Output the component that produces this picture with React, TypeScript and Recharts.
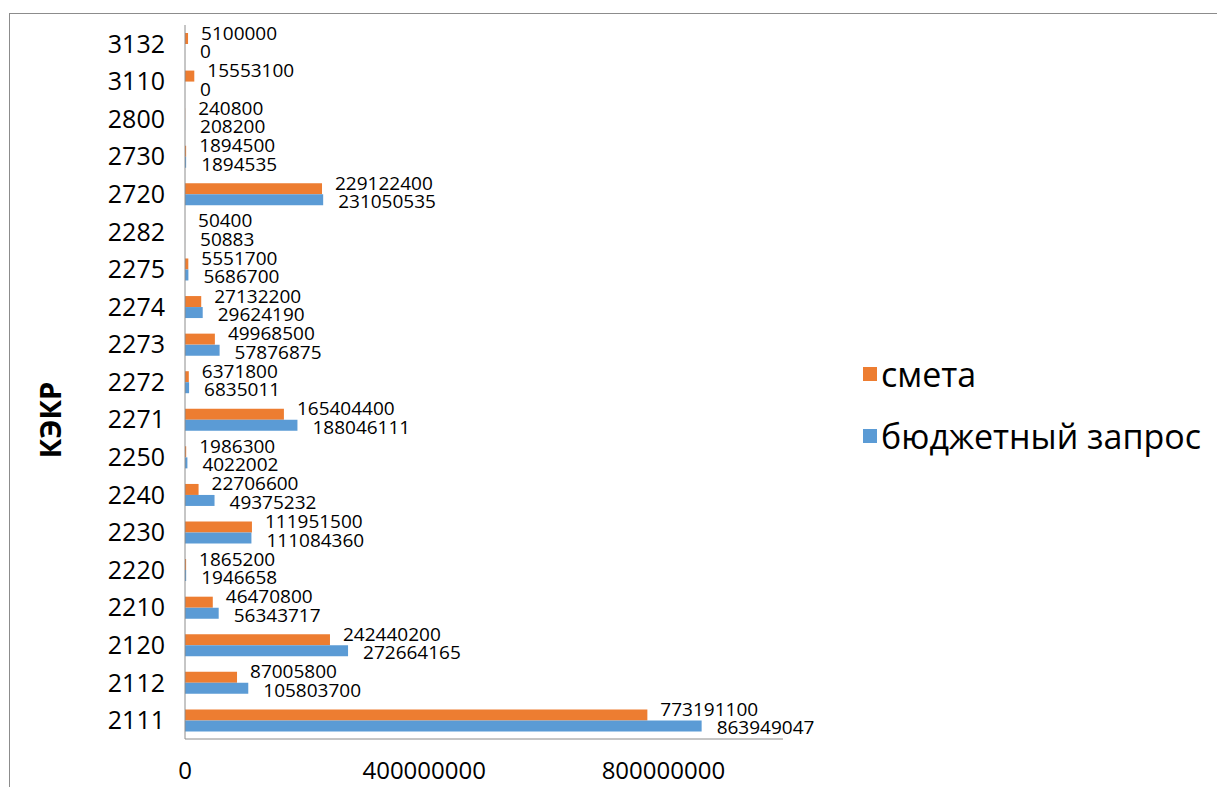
import React from 'react';
import { BarChart, Bar, XAxis, YAxis, CartesianGrid, LabelList } from 'recharts';

const categories = ['3132', '3110', '2800', '2730', '2720', '2282', '2275', '2274', '2273', '2272', '2271', '2250', '2240', '2230', '2220', '2210', '2120', '2112', '2111'];
const smeta = [5100000, 15553100, 240800, 1894500, 229122400, 50400, 5551700, 27132200, 49968500, 6371800, 165404400, 1986300, 22706600, 111951500, 1865200, 46470800, 242440200, 87005800, 773191100];
const zapros = [0, 0, 208200, 1894535, 231050535, 50883, 5686700, 29624190, 57876875, 6835011, 188046111, 4022002, 49375232, 111084360, 1946658, 56343717, 272664165, 105803700, 863949047];
const xTicks = [0, 400000000, 800000000];
const seriesNames = ['смета', 'бюджетный запрос'];

const data = categories.map((c, i) => ({ cat: c, smeta: smeta[i], zapros: zapros[i] }));

const ORANGE = '#ED7D31';
const BLUE = '#5B9BD5';
const FONT = '"Open Sans", "Noto Sans", sans-serif';

const makeLabel = (dx: number, dy: number) => (props: any) => {
  const { x, y, width, height, value } = props;
  return (
    <text
      x={Number(x) + Number(width) + dx}
      y={Number(y) + Number(height) / 2 + dy}
      dominantBaseline="central"
      fontSize={19}
      fontFamily={FONT}
      fill="#000"
    >
      {value}
    </text>
  );
};

const gridGen = (props: any) => {
  const xa = props && props.xAxis;
  if (xa && typeof xa.scale === 'function') {
    return xTicks.map((t) => xa.scale(t));
  }
  return [];
};

export default function App() {
  return (
    <div style={{ position: 'absolute', left: 0, top: 0, width: 1217, height: 787, background: '#fff', overflow: 'hidden' }}>
      <div style={{ position: 'absolute', left: 9, top: 13, right: 0, bottom: 0, borderTop: '1px solid #8c8c8c', borderLeft: '1px solid #8c8c8c' }} />
      <div style={{ position: 'absolute', left: 0, top: 0 }}>
        <BarChart
          width={1217}
          height={787}
          data={data}
          layout="vertical"
          margin={{ top: 25, right: 434, left: 0, bottom: 8 }}
          barGap={0}
          barSize={11}
        >
          <CartesianGrid horizontal={false} stroke="#8c8c8c" strokeWidth={1} verticalCoordinatesGenerator={gridGen} />
          <XAxis
            type="number"
            domain={[0, 1000000000]}
            ticks={xTicks}
            tickLine={false}
            axisLine={{ stroke: '#8c8c8c' }}
            height={40}
            tickSize={6}
            tickMargin={17}
            tick={{ fontSize: 24, fontFamily: FONT, fill: '#000' }}
            interval={0}
          />
          <YAxis
            type="category"
            dataKey="cat"
            width={185}
            tickLine={false}
            axisLine={{ stroke: '#8c8c8c' }}
            tickSize={6}
            tickMargin={14}
            tick={{ fontSize: 25, fontFamily: FONT, fill: '#000' }}
            interval={0}
          />
          <Bar dataKey="smeta" name={seriesNames[0]} fill={ORANGE} isAnimationActive={false} minPointSize={0.01}>
            <LabelList dataKey="smeta" content={makeLabel(13, -6)} />
          </Bar>
          <Bar dataKey="zapros" name={seriesNames[1]} fill={BLUE} isAnimationActive={false} minPointSize={0.01}>
            <LabelList dataKey="zapros" content={makeLabel(15, 1.5)} />
          </Bar>
        </BarChart>
      </div>
      <div style={{ position: 'absolute', left: 49, top: 420, transform: 'translate(-50%, -50%) rotate(-90deg)', fontFamily: FONT, fontWeight: 700, fontSize: 29, color: '#000', whiteSpace: 'nowrap', lineHeight: 1 }}>
        КЭКР
      </div>
      <div style={{ position: 'absolute', left: 863, top: 354, height: 40, display: 'flex', alignItems: 'center', fontFamily: FONT, fontSize: 34, color: '#000', lineHeight: 1, whiteSpace: 'nowrap' }}>
        <span style={{ display: 'inline-block', width: 14, height: 14, background: ORANGE, marginRight: 4 }} />
        <span>{seriesNames[0]}</span>
      </div>
      <div style={{ position: 'absolute', left: 863, top: 416, height: 40, display: 'flex', alignItems: 'center', fontFamily: FONT, fontSize: 34, color: '#000', lineHeight: 1, whiteSpace: 'nowrap' }}>
        <span style={{ display: 'inline-block', width: 14, height: 14, background: BLUE, marginRight: 4 }} />
        <span>{seriesNames[1]}</span>
      </div>
    </div>
  );
}
